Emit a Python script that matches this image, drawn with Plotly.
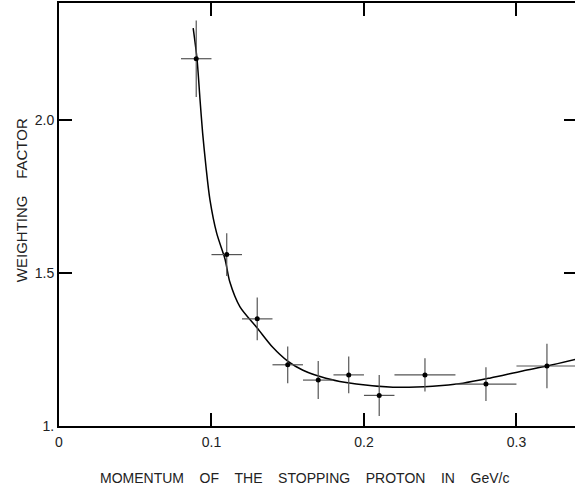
import plotly.graph_objects as go

# Measured data points
momentum = [0.09, 0.11, 0.13, 0.15, 0.17, 0.19, 0.21, 0.24, 0.28, 0.32]
weight = [2.20, 1.56, 1.35, 1.20, 1.15, 1.167, 1.10, 1.167, 1.137, 1.196]
momentum_err = [0.01, 0.01, 0.01, 0.01, 0.01, 0.01, 0.01, 0.02, 0.02, 0.02]
weight_err = [0.125, 0.07, 0.07, 0.06, 0.062, 0.06, 0.067, 0.054, 0.055, 0.073]

# Fitted curve
curve_x = [0.088, 0.0905, 0.0925, 0.0942, 0.0964, 0.099, 0.1034, 0.1089, 0.112,
           0.1187, 0.130, 0.140, 0.150, 0.160, 0.175, 0.195, 0.219, 0.245,
           0.265, 0.283, 0.304, 0.320, 0.339]
curve_y = [2.30, 2.20, 2.065, 1.957, 1.847, 1.739, 1.630, 1.545, 1.471,
           1.389, 1.32, 1.258, 1.212, 1.182, 1.156, 1.137, 1.127, 1.13,
           1.14, 1.157, 1.18, 1.196, 1.218]

x_ticks = [0, 0.1, 0.2, 0.3]
x_ticktext = ["0", "0.1", "0.2", "0.3"]
y_ticks = [1.0, 1.5, 2.0]
y_ticktext = ["1.", "1.5", "2.0"]

x_title = ("\u00a0" * 4).join(["MOMENTUM", "OF", "THE", "STOPPING", "PROTON", "IN", "GeV/c"])
y_title = ("\u00a0" * 4).join(["WEIGHTING", "FACTOR"])

FONT = "Liberation Sans, Arial, sans-serif"
TXT = "#222222"

fig = go.Figure()
fig.add_trace(go.Scatter(
    x=curve_x, y=curve_y, mode="lines",
    line=dict(color="black", width=1.5, shape="spline", smoothing=0.8),
    hoverinfo="skip", showlegend=False,
))
fig.add_trace(go.Scatter(
    x=momentum, y=weight, mode="markers",
    marker=dict(color="black", size=5),
    error_x=dict(type="data", array=momentum_err, color="#555555", thickness=1.2, width=0),
    error_y=dict(type="data", array=weight_err, color="#555555", thickness=1.2, width=0),
    showlegend=False,
))
# invisible trace on a right-hand axis, for the inner ticks on the right side
fig.add_trace(go.Scatter(x=[momentum[0]], y=[weight[0]], yaxis="y2", mode="markers",
                         marker=dict(opacity=0), hoverinfo="skip", showlegend=False))

fig.update_layout(
    width=575, height=489,
    margin=dict(l=59, r=0, t=3, b=63),
    plot_bgcolor="white", paper_bgcolor="white",
    font=dict(family=FONT, size=14, color=TXT),
    xaxis=dict(
        range=[0, 0.3384], tickvals=x_ticks, ticktext=x_ticktext,
        ticks="inside", ticklen=13, tickwidth=2, tickcolor="black",
        showline=True, linecolor="black", linewidth=2, mirror="ticks",
        showgrid=False, zeroline=False, ticklabelstandoff=2,
        tickfont=dict(family=FONT, size=14, color=TXT),
    ),
    yaxis=dict(
        range=[1.0, 2.382], tickvals=y_ticks, ticktext=y_ticktext,
        ticks="inside", ticklen=13, tickwidth=2, tickcolor="black",
        showline=True, linecolor="black", linewidth=2,
        showgrid=False, zeroline=False,
        tickfont=dict(family=FONT, size=14, color=TXT),
    ),
    yaxis2=dict(
        range=[1.0, 2.382], tickvals=y_ticks, overlaying="y", side="right",
        ticks="inside", ticklen=11, tickwidth=2, tickcolor="black",
        showticklabels=False, showline=False, showgrid=False, zeroline=False,
    ),
    annotations=[
        dict(text=x_title, xref="paper", yref="paper", x=0.4767, y=-0.123,
             xanchor="center", yanchor="middle", showarrow=False,
             font=dict(family=FONT, size=14, color=TXT)),
        dict(text=y_title, xref="paper", yref="paper", x=-0.0736, y=0.534,
             xanchor="center", yanchor="middle", showarrow=False, textangle=-90,
             font=dict(family=FONT, size=15, color=TXT)),
    ],
)

fig.write_html("out.html", config={"displayModeBar": False},
               post_script="document.body.style.margin='0px';document.body.style.overflow='hidden';")
